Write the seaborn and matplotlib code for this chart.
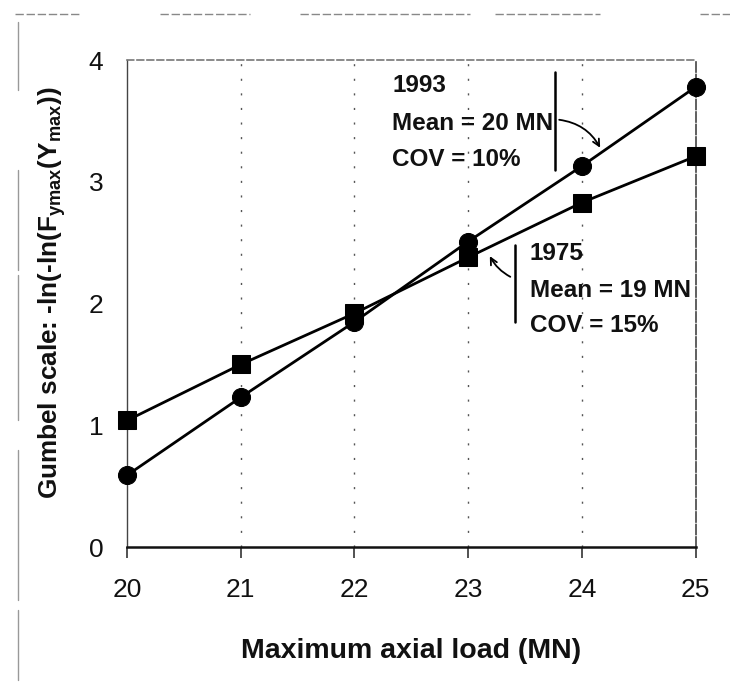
import matplotlib
matplotlib.use("Agg")
import matplotlib.pyplot as plt
from matplotlib.lines import Line2D
import seaborn as sns
import pandas as pd

# ---- data ----
loads = [20, 21, 22, 23, 24, 25]
gumbel_1993 = [0.59, 1.23, 1.85, 2.51, 3.13, 3.78]
gumbel_1975 = [1.04, 1.50, 1.92, 2.38, 2.83, 3.21]
series_names = ["1993", "1975"]
x_ticks = [20, 21, 22, 23, 24, 25]
y_ticks = [0, 1, 2, 3, 4]
x_label = "Maximum axial load (MN)"
y_label = "Gumbel scale: -ln(-ln(F$_{ymax}$(Y$_{max}$))"
note_1993 = ["1993", "Mean = 20 MN", "COV = 10%"]
note_1975 = ["1975", "Mean = 19 MN", "COV = 15%"]

df = pd.DataFrame({
    "load": loads * 2,
    "gumbel": gumbel_1993 + gumbel_1975,
    "series": [series_names[0]] * len(loads) + [series_names[1]] * len(loads),
})

sns.set_theme(style="white")
plt.rcParams["font.family"] = ["Liberation Sans", "DejaVu Sans"]
plt.rcParams["mathtext.default"] = "regular"

fig = plt.figure(figsize=(7.30, 6.83), dpi=100)
ax = fig.add_axes([0.174, 0.199, 0.779, 0.713])

sns.lineplot(data=df, x="load", y="gumbel", style="series",
             markers={"1993": "o", "1975": "s"}, dashes=False,
             color="black", linewidth=2.0, markersize=13,
             markeredgecolor="black", legend=False, ax=ax)
for ln in ax.get_lines():
    ln.set_clip_on(False)
    ln.set_zorder(5)

ax.set_xlim(20, 25)
ax.set_ylim(0, 4)
ax.set_xticks(x_ticks)
ax.set_yticks(y_ticks)
ax.set_xticklabels([str(v) for v in x_ticks], fontsize=19)
ax.set_yticklabels([str(v) for v in y_ticks], fontsize=19)
ax.tick_params(axis="x", direction="out", length=8, width=1.2, color="#333333", pad=14, bottom=True)
ax.tick_params(axis="y", length=0, pad=17)
for lbl in ax.get_xticklabels() + ax.get_yticklabels():
    lbl.set_color("#111111")

# vertical dotted grid
for xv in x_ticks[1:-1]:
    ax.axvline(xv, color="#555555", linewidth=1.0, linestyle=(0, (1.5, 9)), zorder=0)

# spines
ax.spines["left"].set_color("#444444")
ax.spines["left"].set_linewidth(1.0)
ax.spines["bottom"].set_color("#111111")
ax.spines["bottom"].set_linewidth(1.8)
ax.spines["top"].set_color("#777777")
ax.spines["top"].set_linewidth(1.2)
ax.spines["top"].set_linestyle((0, (4, 2)))
ax.spines["right"].set_color("#444444")
ax.spines["right"].set_linewidth(1.2)
ax.spines["right"].set_linestyle((0, (6, 1.5)))

ax.set_xlabel(x_label, fontsize=20.5, fontweight="bold", labelpad=26.5)
ax.set_ylabel(y_label, fontsize=18.8, fontweight="bold")
ax.yaxis.set_label_coords(-0.104, 0.522)
ax.xaxis.label.set_color("#111111")
ax.yaxis.label.set_color("#111111")

note_fs = 17.5

# 1993 annotation
for txt, yv in zip(note_1993, [3.79, 3.48, 3.18]):
    ax.text(22.33, yv, txt, fontsize=note_fs, fontweight="bold",
            ha="left", va="center", color="#111111")
ax.plot([23.76, 23.76], [3.10, 3.90], color="black", linewidth=1.8)
ax.annotate("", xy=(24.16, 3.28), xytext=(23.80, 3.51),
            arrowprops=dict(arrowstyle="->", color="black", lw=1.3,
                            connectionstyle="arc3,rad=-0.25", shrinkA=0, shrinkB=0))

# 1975 annotation
for txt, yv in zip(note_1975, [2.41, 2.11, 1.82]):
    ax.text(23.54, yv, txt, fontsize=note_fs, fontweight="bold",
            ha="left", va="center", color="#111111")
ax.plot([23.41, 23.41], [1.85, 2.48], color="black", linewidth=1.8)
ax.annotate("", xy=(23.19, 2.39), xytext=(23.37, 2.22),
            arrowprops=dict(arrowstyle="->", color="black", lw=1.3,
                            connectionstyle="arc3,rad=-0.15", shrinkA=0, shrinkB=0))

# scan-border artefacts (page edges)
W, H = 730.0, 683.0
def fline(x0, y0, x1, y1, **kw):
    fig.add_artist(Line2D([x0 / W, x1 / W], [1 - y0 / H, 1 - y1 / H], transform=fig.transFigure, **kw))
for (a, b) in [(15, 80), (160, 250), (300, 470), (495, 600), (700, 730)]:
    fline(a, 14, b, 14, color="#888888", linewidth=1.0, linestyle=(0, (6, 2)))
for (a, b) in [(22, 90), (170, 270), (275, 420), (450, 600), (610, 680)]:
    fline(18, a, 18, b, color="#999999", linewidth=1.0)

fig.savefig("out.png", dpi=100)
